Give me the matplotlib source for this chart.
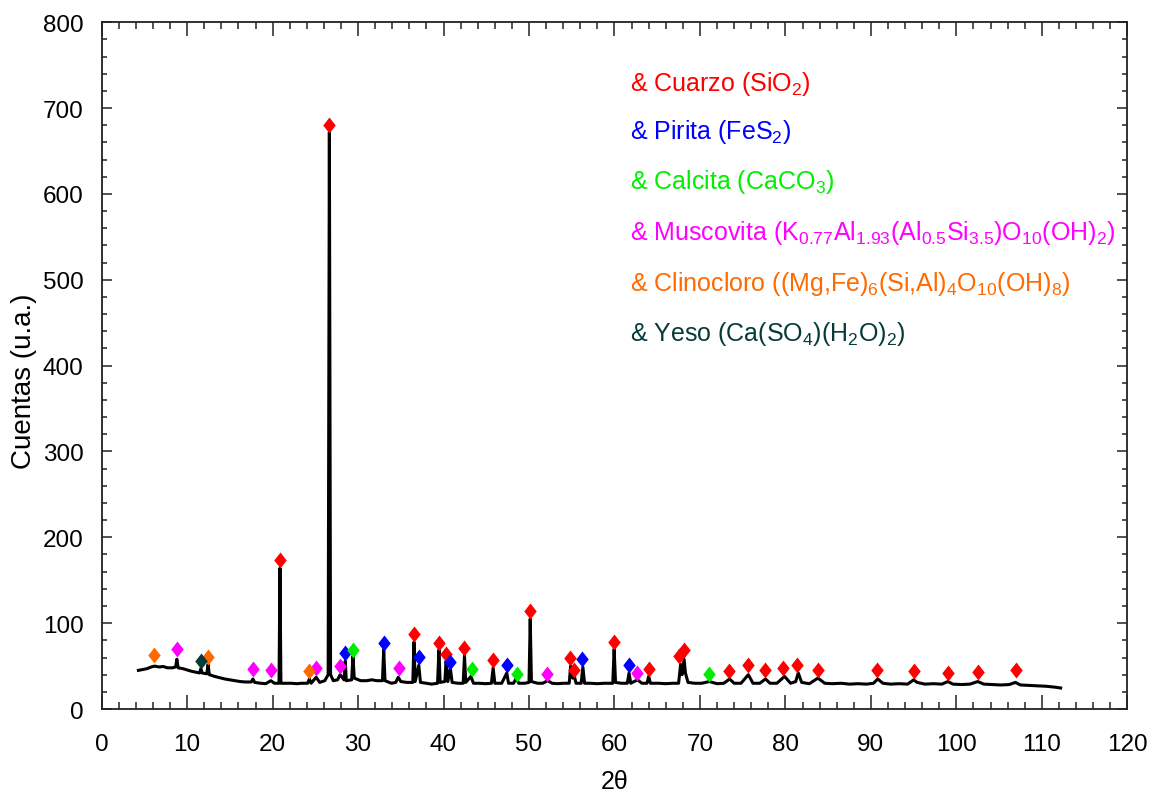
import matplotlib
matplotlib.use("Agg")
import matplotlib.pyplot as plt
import numpy as np

# difractograma (2theta, cuentas)
two_theta = [
    4.3, 4.8, 5.3, 5.8, 6.2, 6.7, 7.2, 7.7, 8.3, 8.65, 8.8, 8.95, 9.5, 10.0, 10.5,
    11.0, 11.45, 11.6, 11.75, 12.3, 12.45, 12.6, 13.2, 13.8, 14.4, 15.0, 15.6, 16.2,
    16.8, 17.5, 17.7, 17.9, 18.6, 19.2, 19.8, 20.2, 20.75, 20.86, 20.97, 21.6, 22.2,
    22.8, 23.4, 24.1, 24.3, 24.5, 25.1, 25.5, 26.1, 26.5, 26.64, 26.78, 27.1, 27.6,
    27.9, 28.35, 28.5, 28.62, 29.25, 29.4, 29.55, 30.3, 31.0, 31.6, 32.2, 32.85, 33.0,
    33.15, 33.9, 34.4, 34.7, 35.0, 35.7, 36.4, 36.54, 36.68, 37.1, 37.3, 38.0, 38.6,
    39.3, 39.46, 39.6, 40.15, 40.3, 40.5, 40.8, 41.0, 41.7, 42.3, 42.45, 42.6, 43.2,
    43.5, 44.2, 44.9, 45.6, 45.8, 46.0, 46.8, 47.4, 47.6, 48.2, 48.5, 48.8, 49.5,
    50.0, 50.14, 50.28, 51.0, 51.6, 52.2, 52.7, 53.3, 54.0, 54.7, 54.87, 55.1, 55.3,
    55.5, 56.1, 56.3, 56.5, 57.2, 58.0, 58.8, 59.8, 59.96, 60.12, 60.8, 61.5, 61.7,
    61.9, 62.7, 63.2, 63.8, 64.0, 64.2, 65.2, 66.0, 66.8, 67.5, 67.74, 67.9, 68.14,
    68.3, 68.6, 69.4, 70.2, 71.1, 72.0, 72.8, 73.47, 74.0, 74.8, 75.66, 76.2, 77.0,
    77.67, 78.2, 79.0, 79.9, 80.6, 81.2, 81.5, 81.9, 82.8, 83.8, 84.6, 85.5, 86.5,
    87.5, 88.5, 89.5, 90.3, 90.8, 91.4, 92.3, 93.3, 94.3, 95.0, 95.4, 96.3, 97.3,
    98.3, 99.0, 99.6, 100.6, 101.6, 102.5, 103.2, 104.2, 105.2, 106.2, 106.9, 107.5,
    108.5, 109.5, 110.5, 111.5, 112.2,
]
counts = [
    45, 46, 47, 49, 50, 49, 49.5, 48, 48, 49, 58, 48, 47, 45.5, 44,
    43, 42, 47, 42, 41, 52, 40, 38, 36.5, 35, 34, 33, 32,
    31.5, 31.5, 35, 31, 30, 29.5, 33, 30, 30, 164, 30, 30, 30,
    29.5, 30, 30, 35, 30, 37, 31, 33, 40, 672, 40, 33, 34,
    40, 34, 56, 33, 34, 62, 36, 33, 33, 34, 33, 33, 69,
    33, 30, 31, 37, 32, 31, 31, 78, 32, 51, 31, 30, 29,
    30, 69, 31, 32, 56, 32, 47, 31, 30, 30, 62, 31, 38,
    30, 30, 29.5, 30, 48, 30, 30, 42, 30, 30, 36, 30, 30,
    31, 105, 32, 30, 30, 33, 30, 29.5, 30, 30, 50, 36, 38.5,
    30, 30, 49, 30, 30, 29.5, 30, 30, 70, 31, 30, 30, 42,
    30, 34, 30, 30, 38, 30, 30, 29.5, 30, 30, 52, 40, 58,
    42, 31, 30, 30, 32, 29.5, 30, 35, 30, 30, 40, 30, 30,
    35, 30, 30, 38, 30, 32, 42, 31, 29.5, 36, 30, 29.5, 30,
    29, 29.5, 29, 30, 35, 30, 29, 29.5, 29, 34, 31, 29, 29.5,
    29, 32, 29, 28.5, 29, 32, 29, 28.5, 28, 28.5, 31, 28,
    27.5, 27, 26.5, 25.5, 24.5,
]

# marcas de fases
cuarzo_x = [20.82, 26.62, 36.5, 39.45, 40.27, 42.37, 45.73, 50.1, 54.85, 55.24, 59.92,
            64.01, 67.6, 68.14, 73.37, 75.63, 77.66, 79.72, 81.4, 83.8, 90.68, 95.0,
            99.0, 102.5, 106.94]
cuarzo_y = [173.7, 680, 87.4, 77.4, 64.5, 71.5, 57.1, 114.2, 59.9, 45.5, 78.5,
            47.1, 61.8, 68.4, 44.3, 50.9, 45, 47.8, 51.7, 45.1, 45.5, 44.3,
            42.4, 43.1, 45.1]
pirita_x = [28.48, 32.98, 37.08, 40.8, 47.37, 56.25, 61.67]
pirita_y = [64.9, 76.9, 60.3, 54.4, 51.3, 58.7, 51.3]
calcita_x = [29.39, 43.3, 48.54, 71.1]
calcita_y = [68.8, 46.3, 40.8, 41.3]
muscovita_x = [8.77, 17.7, 19.77, 25.1, 27.87, 34.73, 52.16, 62.69]
muscovita_y = [69.6, 46.3, 45.1, 47.8, 49.8, 47.8, 40.4, 41.6]
clinocloro_x = [6.15, 12.43, 24.28]
clinocloro_y = [62.6, 60.6, 44.7]
yeso_x = [11.58]
yeso_y = [55.6]

etiquetas = [
    r'& Cuarzo (SiO$_2$)',
    r'& Pirita (FeS$_2$)',
    r'& Calcita (CaCO$_3$)',
    r'& Muscovita (K$_{0.77}$Al$_{1.93}$(Al$_{0.5}$Si$_{3.5}$)O$_{10}$(OH)$_2$)',
    r'& Clinocloro ((Mg,Fe)$_6$(Si,Al)$_4$O$_{10}$(OH)$_8$)',
    r'& Yeso (Ca(SO$_4$)(H$_2$O)$_2$)',
]
colores = ['#ff0000', '#0000ff', '#00ee00', '#ff00ff', '#ff6a00', '#073b3a']

plt.rcParams['font.family'] = ['Liberation Sans', 'DejaVu Sans']
plt.rcParams['mathtext.fontset'] = 'custom'
plt.rcParams['mathtext.rm'] = 'Liberation Sans'
plt.rcParams['mathtext.default'] = 'regular'

fig = plt.figure(figsize=(11.58, 8.03), dpi=100)
ax = fig.add_axes([0.0878, 0.1158, 0.8857, 0.8552])

ax.plot(two_theta, counts, color='black', linewidth=2.2, zorder=2)

rombo = [(0, 1), (0.78, 0), (0, -1), (-0.78, 0), (0, 1)]
fases = [(cuarzo_x, cuarzo_y), (pirita_x, pirita_y), (calcita_x, calcita_y),
         (muscovita_x, muscovita_y), (clinocloro_x, clinocloro_y), (yeso_x, yeso_y)]
for (fx, fy), c in zip(fases, colores):
    ax.plot(fx, fy, linestyle='none', marker=rombo, markersize=11.5,
            color=c, markeredgewidth=0, zorder=3)

# texto de leyenda
leyenda_y = [721, 665, 606.5, 547.4, 488.3, 430]
for txt, c, yy in zip(etiquetas, colores, leyenda_y):
    ax.text(61.8, yy, txt, color=c, fontsize=18, va='baseline', ha='left')

ax.set_xlim(0, 120)
ax.set_ylim(0, 800)
ax.set_xticks(np.arange(0, 121, 10))
ax.set_xticks(np.arange(0, 121, 2), minor=True)
ax.set_yticks(np.arange(0, 801, 100))
ax.set_yticks(np.arange(0, 801, 20), minor=True)

ax.tick_params(axis='both', which='both', direction='in', top=True, right=True,
               colors='#333333', labelcolor='black', width=1.2)
ax.tick_params(axis='x', which='major', length=10, pad=17, labelsize=17.5)
ax.tick_params(axis='x', which='minor', length=5)
ax.tick_params(axis='y', which='major', length=7.2, pad=13, labelsize=17.5)
ax.tick_params(axis='y', which='minor', length=3.6)
for s in ax.spines.values():
    s.set_linewidth(1.3)
    s.set_color('#222222')

ax.set_xlabel('2θ', fontsize=18)
ax.set_ylabel('Cuentas (u.a.)', fontsize=20)
ax.xaxis.set_label_coords(0.5, -0.088)
ax.yaxis.set_label_coords(-0.063, 0.479)

fig.savefig('out.png', dpi=100)
